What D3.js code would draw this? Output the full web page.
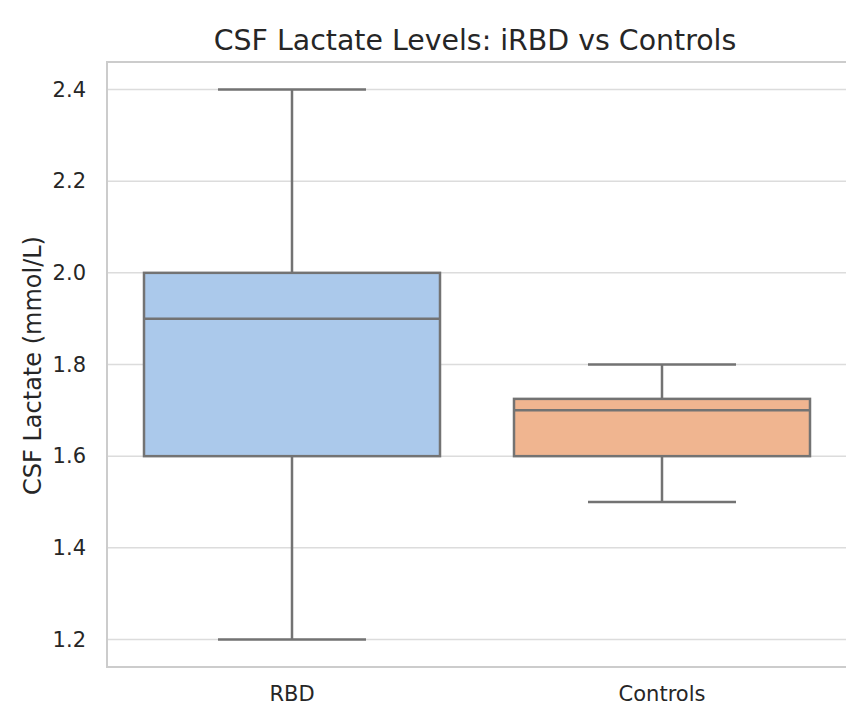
<!DOCTYPE html>
<html>
<head>
<meta charset="utf-8">
<script src="https://cdn.jsdelivr.net/npm/d3@7"></script>
<style>
  body { margin: 0; background: #fff; }
  text { font-family: "DejaVu Sans", sans-serif; fill: #262626; }
</style>
</head>
<body>
<div id="chart"></div>
<script>
// data
var groups = ["RBD", "Controls"];
var whiskLow = [1.2, 1.5];
var q1 = [1.6, 1.6];
var medians = [1.9, 1.7];
var q3 = [2.0, 1.725];
var whiskHigh = [2.4, 1.8];
var fills = ["#abc9eb", "#f0b590"];
var yTicks = [1.2, 1.4, 1.6, 1.8, 2.0, 2.2, 2.4];

var svgWidth = 846;
var svgHeight = 706;

var margin = { top: 62, right: -1, bottom: 39, left: 107 };
var width = svgWidth - margin.left - margin.right;
var height = svgHeight - margin.top - margin.bottom;

var svg = d3.select("#chart").append("svg")
  .attr("width", svgWidth)
  .attr("height", svgHeight);

var chartGroup = svg.append("g")
  .attr("transform", `translate(${margin.left}, ${margin.top})`);

var xScale = d3.scaleBand()
  .domain(groups)
  .range([0, width])
  .paddingInner(0.2)
  .paddingOuter(0.1);

var yScale = d3.scaleLinear()
  .domain([1.14, 2.46])
  .range([height, 0]);

// grid
chartGroup.selectAll(".grid")
  .data(yTicks)
  .enter()
  .append("line")
  .attr("x1", 0)
  .attr("x2", width)
  .attr("y1", d => yScale(d))
  .attr("y2", d => yScale(d))
  .attr("stroke", "#dcdcdc")
  .attr("stroke-width", 1.5);

var leftAxis = d3.axisLeft(yScale)
  .tickValues(yTicks)
  .tickFormat(d3.format(".1f"))
  .tickSize(0)
  .tickPadding(21);

var yAxis = chartGroup.append("g").call(leftAxis);
yAxis.select(".domain").remove();
yAxis.selectAll("text")
  .attr("font-size", "21px")
  .attr("font-family", "DejaVu Sans, sans-serif")
  .attr("fill", "#262626");

var bottomAxis = d3.axisBottom(xScale).tickSize(0).tickPadding(19);
var xAxis = chartGroup.append("g")
  .attr("transform", `translate(0, ${height})`)
  .call(bottomAxis);
xAxis.select(".domain").remove();
xAxis.selectAll("text")
  .attr("font-size", "21px")
  .attr("font-family", "DejaVu Sans, sans-serif")
  .attr("fill", "#262626");

var lineColor = "#737373";
var boxW = xScale.bandwidth();

var boxes = chartGroup.selectAll(".box")
  .data(groups)
  .enter()
  .append("g")
  .attr("transform", d => `translate(${xScale(d)}, 0)`);

// whiskers
boxes.append("line")
  .attr("x1", boxW / 2).attr("x2", boxW / 2)
  .attr("y1", (d, i) => yScale(whiskLow[i]))
  .attr("y2", (d, i) => yScale(q1[i]))
  .attr("stroke", lineColor).attr("stroke-width", 2.5);
boxes.append("line")
  .attr("x1", boxW / 2).attr("x2", boxW / 2)
  .attr("y1", (d, i) => yScale(q3[i]))
  .attr("y2", (d, i) => yScale(whiskHigh[i]))
  .attr("stroke", lineColor).attr("stroke-width", 2.5);

// caps
boxes.append("line")
  .attr("x1", boxW / 4).attr("x2", boxW * 3 / 4)
  .attr("y1", (d, i) => yScale(whiskLow[i]))
  .attr("y2", (d, i) => yScale(whiskLow[i]))
  .attr("stroke", lineColor).attr("stroke-width", 2.5);
boxes.append("line")
  .attr("x1", boxW / 4).attr("x2", boxW * 3 / 4)
  .attr("y1", (d, i) => yScale(whiskHigh[i]))
  .attr("y2", (d, i) => yScale(whiskHigh[i]))
  .attr("stroke", lineColor).attr("stroke-width", 2.5);

// box
boxes.append("rect")
  .attr("x", 0)
  .attr("width", boxW)
  .attr("y", (d, i) => yScale(q3[i]))
  .attr("height", (d, i) => yScale(q1[i]) - yScale(q3[i]))
  .attr("fill", (d, i) => fills[i])
  .attr("stroke", lineColor)
  .attr("stroke-width", 2.5);

// median
boxes.append("line")
  .attr("x1", 0).attr("x2", boxW)
  .attr("y1", (d, i) => yScale(medians[i]))
  .attr("y2", (d, i) => yScale(medians[i]))
  .attr("stroke", lineColor).attr("stroke-width", 2.5);

// frame
chartGroup.append("rect")
  .attr("x", 0).attr("y", 0)
  .attr("width", width).attr("height", height)
  .attr("fill", "none")
  .attr("stroke", "#cccccc")
  .attr("stroke-width", 2);

svg.append("text")
  .attr("x", margin.left + width / 2 - 2)
  .attr("y", 50)
  .attr("text-anchor", "middle")
  .attr("font-size", "28.4px")
  .text("CSF Lactate Levels: iRBD vs Controls");

svg.append("text")
  .attr("transform", `translate(41, ${margin.top + height / 2 + 1}) rotate(-90)`)
  .attr("text-anchor", "middle")
  .attr("font-size", "24px")
  .text("CSF Lactate (mmol/L)");
</script>
</body>
</html>
